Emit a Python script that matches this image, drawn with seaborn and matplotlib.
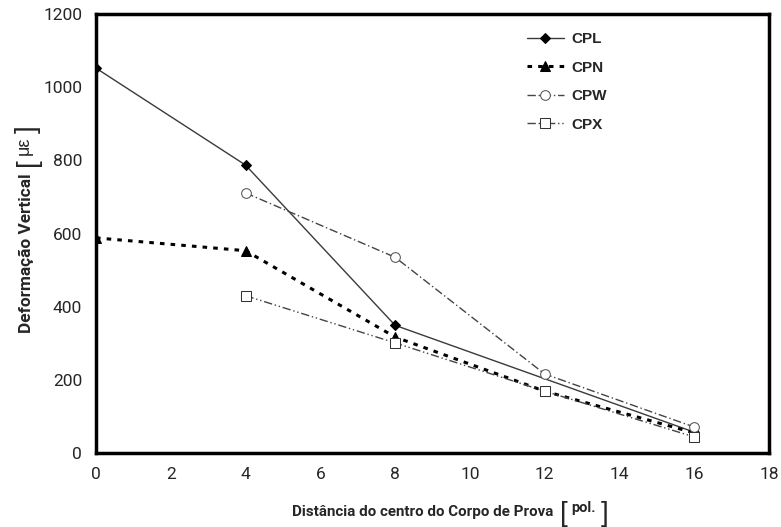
import pandas as pd
import matplotlib.pyplot as plt
import seaborn as sns

# Dados
dist_cpl = [0, 4, 8, 16]
cpl = [1052, 787, 349, 57]
dist_cpn = [0, 4, 8, 12, 16]
cpn = [588, 553, 317, 169, 55]
dist_cpw = [4, 8, 12, 16]
cpw = [711, 535, 216, 71]
dist_cpx = [4, 8, 12, 16]
cpx = [430, 301, 169, 44]

sns.set_style('white')
plt.rcParams['font.family'] = ['Liberation Sans', 'DejaVu Sans']
fonte_rotulo = ['Roboto', 'Liberation Sans', 'DejaVu Sans']

W, H = 781, 527
fig = plt.figure(figsize=(W / 100, H / 100), dpi=100)
ax = fig.add_axes([96 / W, 1 - 453 / H, 673 / W, 439 / H])

series = [
    ('CPL', dist_cpl, cpl, dict(color='#3a3a3a', linestyle='-', linewidth=1.0,
                                marker='D', markersize=5, markerfacecolor='black',
                                markeredgecolor='black')),
    ('CPN', dist_cpn, cpn, dict(color='black', linestyle=(0, (1.5, 2)), linewidth=2.2,
                                marker='^', markersize=7.5, markerfacecolor='black',
                                markeredgecolor='black')),
    ('CPW', dist_cpw, cpw, dict(color='#444444', linestyle=(0, (6, 2, 1, 2)), linewidth=1.0,
                                marker='o', markersize=7, markerfacecolor='white',
                                markeredgecolor='#555555')),
    ('CPX', dist_cpx, cpx, dict(color='#444444', linestyle=(0, (6, 2, 1, 2, 1, 2)), linewidth=1.0,
                                marker='s', markersize=7, markerfacecolor='white',
                                markeredgecolor='#333333')),
]

for nome, x, y, kw in series:
    df = pd.DataFrame({'x': x, 'y': y})
    sns.lineplot(data=df, x='x', y='y', ax=ax, label=nome, **kw)

ax.set_xlim(0, 18)
ax.set_ylim(0, 1200)
ax.set_xticks(range(0, 19, 2))
ax.set_yticks(range(0, 1201, 200))
ax.tick_params(direction='in', length=7, width=1.5, labelsize=12.5, pad=10)
for lab in ax.get_xticklabels() + ax.get_yticklabels():
    lab.set_family(['Roboto', 'Liberation Sans'])
for s in ax.spines.values():
    s.set_linewidth(2.5)
    s.set_color('black')
ax.set_xlabel('')
ax.set_ylabel('')

renderer = fig.canvas.get_renderer()


def ajustar(t, largura):
    # ajusta o tamanho da fonte para ocupar a largura desejada (px)
    for _ in range(3):
        bb = t.get_window_extent(renderer)
        tam = max(bb.width, bb.height) if t.get_rotation() else bb.width
        t.set_fontsize(t.get_fontsize() * largura / tam)


# rótulo do eixo x com colchetes grandes
tx = fig.text(292 / W, 1 - 512 / H, 'Distância do centro do Corpo de Prova', fontsize=12,
              fontweight='bold', family=fonte_rotulo, ha='left', va='center')
ajustar(tx, 261)
fig.text(564 / W, 1 - 514 / H, '[', fontsize=20, ha='center', va='center')
fig.text(584 / W, 1 - 508 / H, 'pol.', fontsize=10.5, fontweight='bold',
         family=fonte_rotulo, ha='center', va='center')
fig.text(605 / W, 1 - 514 / H, ']', fontsize=20, ha='center', va='center')

# rótulo do eixo y
xy = 26 / W
ty = fig.text(xy, 1 - 253 / H, 'Deformação Vertical', fontsize=12, fontweight='bold',
              family=fonte_rotulo, rotation=90, ha='center', va='center')
ajustar(ty, 160)
fig.text(xy + 0.002, 1 - 162 / H, '[', fontsize=20, rotation=90, ha='center', va='center')
fig.text(xy - 0.002, 1 - 146 / H, 'με', fontsize=13, rotation=90, ha='center', va='center')
fig.text(xy + 0.002, 1 - 129 / H, ']', fontsize=20, rotation=90, ha='center', va='center')

leg = ax.legend(loc='upper left', bbox_to_anchor=(0.62, 0.99), frameon=False,
                prop={'weight': 'bold', 'size': 11}, handlelength=2.4,
                handletextpad=0.5, labelspacing=0.95)

fig.savefig('out.png', dpi=100)
